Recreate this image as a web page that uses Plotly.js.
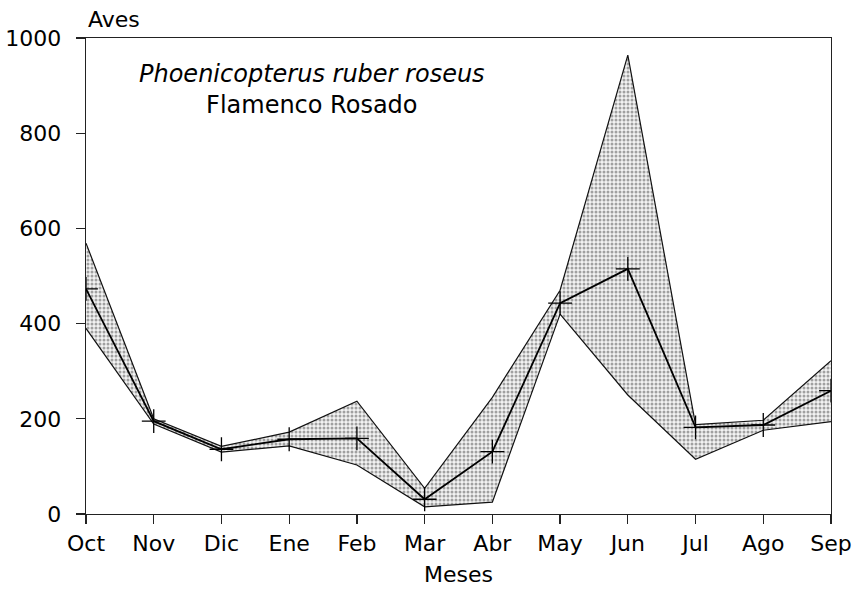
<!DOCTYPE html>
<html>
<head>
<meta charset="utf-8">
<script src="https://cdn.plot.ly/plotly-3.0.1.min.js"></script>
<style>html,body{margin:0;padding:0;background:#fff;}#chart{width:861px;height:592px;}</style>
</head>
<body>
<div id="chart"></div>
<script>
const months = ["Oct","Nov","Dic","Ene","Feb","Mar","Abr","May","Jun","Jul","Ago","Sep"];
const upperValues = [569, 200, 142, 172, 237, 54, 245, 470, 964, 188, 197, 322];
const meanValues  = [473, 195, 136, 157, 159, 31, 131, 443, 515, 182, 187, 259];
const lowerValues = [390, 189, 130, 143, 103, 15, 25, 420, 250, 115, 176, 194];
const yTickValues = [0, 200, 400, 600, 800, 1000];

const FONT = "DejaVu Sans, Liberation Sans, Arial, sans-serif";

const traces = [
  {x: months, y: lowerValues, type: "scatter", mode: "lines",
   line: {color: "#111", width: 1.2}, hoverinfo: "skip", showlegend: false},
  {x: months, y: upperValues, type: "scatter", mode: "lines", fill: "tonexty",
   fillcolor: "rgba(0,0,0,0)",
   fillpattern: {shape: ".", fgcolor: "#a0a0a0", bgcolor: "#f3f3f3", size: 4, solidity: 0.45},
   line: {color: "#111", width: 1.2}, hoverinfo: "skip", showlegend: false},
  {x: months, y: meanValues, type: "scatter", mode: "lines+markers",
   line: {color: "#000", width: 1.8},
   marker: {symbol: "cross-thin-open", size: 17, line: {color: "#000", width: 1.3}},
   showlegend: false}
];

const layout = {
  width: 861, height: 592,
  margin: {l: 86, r: 30, t: 38, b: 78},
  paper_bgcolor: "#fff", plot_bgcolor: "#fff",
  font: {family: FONT, color: "#000", size: 22},
  xaxis: {
    type: "category", categoryarray: months, range: [0, 11],
    showgrid: false, zeroline: false,
    showline: true, mirror: true, linecolor: "#222", linewidth: 1.3,
    ticks: "outside", ticklen: 9, tickwidth: 1.2, tickcolor: "#222",
    tickfont: {family: FONT, size: 22, color: "#000"},
    title: {text: "Meses", font: {family: FONT, size: 22, color: "#000"}, standoff: 12}
  },
  xaxis2: {
    overlaying: "x", anchor: "y", range: [0, 11], tickmode: "array",
    tickvals: [0,1,2,3,4,5,6,7,8,9,10,11], showticklabels: false,
    ticks: "inside", ticklen: 9, tickwidth: 1.2, tickcolor: "#222",
    showgrid: false, zeroline: false, showline: false
  },
  yaxis: {
    range: [0, 1000], tickmode: "array", tickvals: yTickValues,
    showgrid: false, zeroline: false,
    showline: true, mirror: true, linecolor: "#222", linewidth: 1.3,
    ticks: "outside", ticklen: 9, tickwidth: 1.2, tickcolor: "#222",
    ticklabelstandoff: 10,
    tickfont: {family: FONT, size: 22, color: "#000"}
  },
  yaxis2: {
    overlaying: "y", anchor: "x", range: [0, 1000], tickmode: "array",
    tickvals: yTickValues, showticklabels: false,
    ticks: "inside", ticklen: 9, tickwidth: 1.2, tickcolor: "#222",
    showgrid: false, zeroline: false, showline: false
  },
  annotations: [
    {xref: "paper", yref: "paper", x: 0, y: 1, xanchor: "left", yanchor: "bottom",
     yshift: 4, showarrow: false, text: "Aves",
     font: {family: FONT, size: 22, color: "#000"}},
    {xref: "paper", yref: "paper", x: (312 - 86) / (861 - 86 - 30), y: 1, xanchor: "center", yanchor: "top",
     yshift: -20, showarrow: false, align: "center",
     text: "<i>Phoenicopterus ruber roseus</i><br>Flamenco Rosado",
     font: {family: FONT, size: 24, color: "#000"}}
  ]
};

Plotly.newPlot("chart", traces, layout, {displayModeBar: false, staticPlot: true});
</script>
</body>
</html>
